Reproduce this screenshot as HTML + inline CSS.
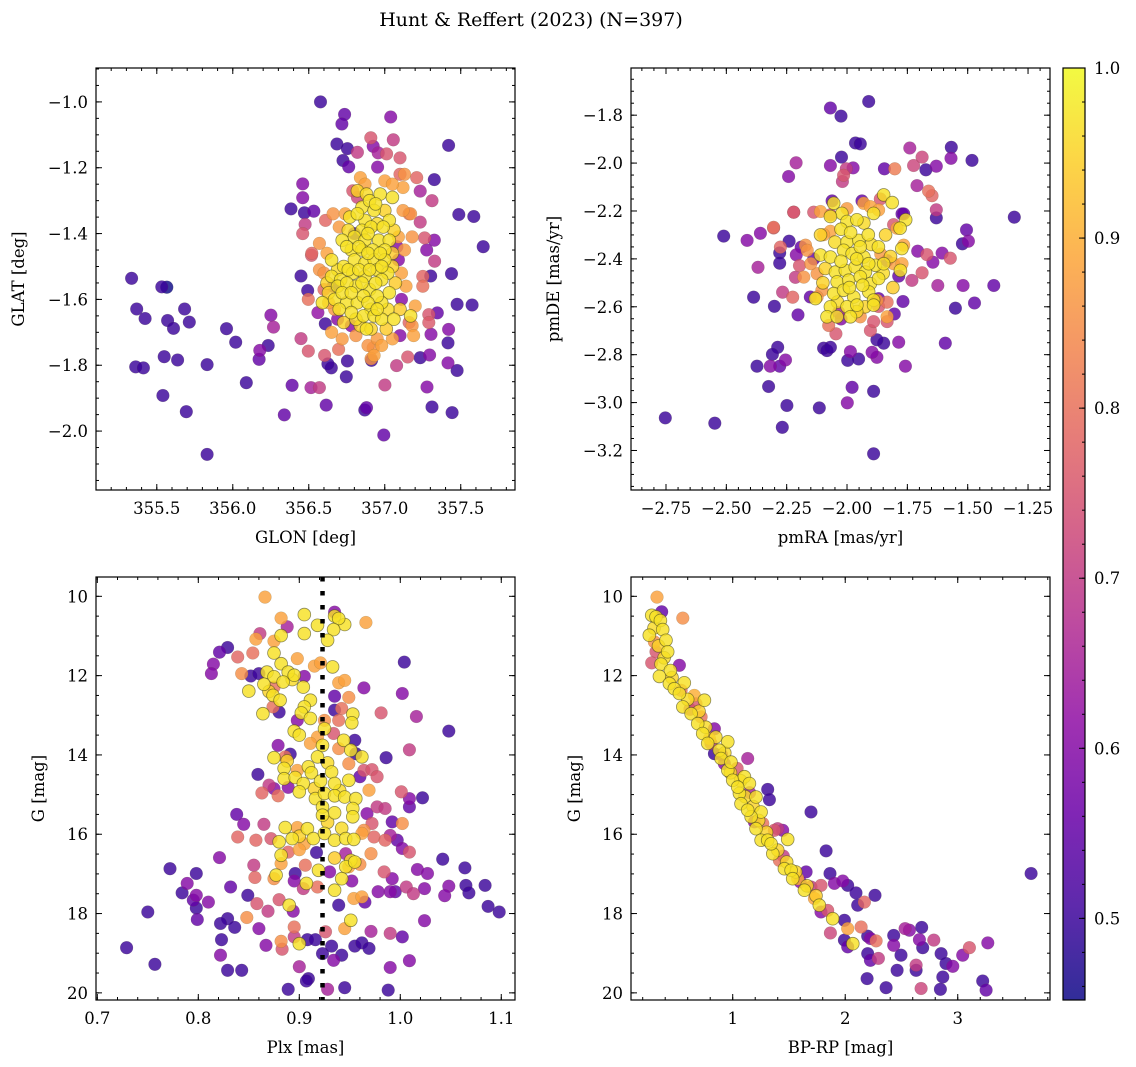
<!DOCTYPE html>
<html><head><meta charset="utf-8"><title>Hunt & Reffert (2023)</title>
<style>
html,body{margin:0;padding:0;background:#fff;}
svg{display:block;font-family:"DejaVu Serif","Liberation Serif",serif;}
</style></head>
<body>
<svg id="fig" width="1136" height="1067" viewBox="0 0 1136 1067" xmlns="http://www.w3.org/2000/svg">
<text x="531" y="26" text-anchor="middle" font-size="19">Hunt &amp; Reffert (2023) (N=397)</text>
</svg>
<script>
// ---------- data: [x, y, membership probability] ----------
const glonGlat = [
[355.334,-1.536,.5],[355.533,-1.562,.5],[355.566,-1.563,.45],[355.368,-1.629,.5],[355.423,-1.658,.5],[355.571,-1.664,.5],[355.683,-1.629,.5],[355.610,-1.688,.5],[355.714,-1.669,.5],[355.361,-1.805,.5],[355.412,-1.808,.5],[355.549,-1.774,.5],[355.637,-1.784,.5],[355.831,-1.798,.5],[355.540,-1.892,.5],[355.694,-1.941,.5],[355.831,-2.071,.5],[355.959,-1.689,.5],[356.019,-1.730,.5],[356.089,-1.853,.5],[356.173,-1.782,.55],[356.178,-1.755,.6],[356.233,-1.740,.5],[356.251,-1.648,.6],[356.268,-1.684,.65],[356.339,-1.951,.55],[356.390,-1.861,.55],[356.383,-1.325,.5],[356.460,-1.249,.6],[356.460,-1.291,.6],[356.471,-1.337,.5],[356.533,-1.332,.55],[356.476,-1.372,.7],[356.460,-1.400,.75],[356.518,-1.466,.75],[356.449,-1.529,.5],[356.493,-1.573,.5],[356.497,-1.600,.8],[356.449,-1.719,.7],[356.497,-1.757,.75],[356.515,-1.868,.65],[356.570,-1.868,.7],[356.615,-1.921,.55],[356.577,-1.000,.5],[356.736,-1.038,.55],[356.718,-1.067,.55],[356.685,-1.128,.5],[356.754,-1.142,.5],[356.725,-1.178,.5],[356.763,-1.197,.55],[356.820,-1.153,.7],[356.908,-1.109,.75],[356.924,-1.135,.6],[356.957,-1.155,.65],[357.012,-1.158,.75],[357.056,-1.115,.7],[357.039,-1.046,.6],[356.953,-1.198,.6],[357.100,-1.170,.75],[357.420,-1.132,.5],[357.326,-1.236,.5],[357.487,-1.342,.5],[357.586,-1.348,.5],[357.648,-1.440,.5],[357.233,-1.271,.65],[357.311,-1.300,.7],[357.233,-1.365,.7],[357.262,-1.413,.75],[357.326,-1.420,.6],[357.276,-1.450,.6],[357.328,-1.484,.7],[357.439,-1.522,.5],[357.302,-1.529,.5],[357.346,-1.641,.55],[357.290,-1.646,.75],[357.476,-1.615,.5],[357.575,-1.617,.5],[357.304,-1.706,.6],[357.420,-1.691,.6],[357.416,-1.732,.5],[357.416,-1.793,.6],[357.476,-1.816,.5],[357.295,-1.769,.6],[357.233,-1.777,.5],[357.278,-1.866,.6],[357.311,-1.927,.5],[357.443,-1.944,.5],[357.151,-1.775,.75],[357.078,-1.801,.7],[357.001,-1.860,.7],[356.994,-2.012,.55],[356.880,-1.929,.55],[356.869,-1.936,.5],[356.754,-1.787,.5],[356.747,-1.835,.5],[356.648,-1.808,.5],[356.626,-1.796,.5],[356.604,-1.770,.75],[356.609,-1.674,.5],[356.696,-1.752,.8],[356.913,-1.785,.5],[356.924,-1.747,.85],
[356.77,-1.35,.97],[356.85,-1.32,.97],[356.90,-1.30,.97],[356.97,-1.28,.97],[357.05,-1.29,.97],[356.87,-1.36,.97],[356.93,-1.33,.97],[357.03,-1.36,.97],[356.85,-1.39,.97],[356.91,-1.38,.97],[356.99,-1.38,.97],[356.72,-1.42,.97],[356.80,-1.41,.97],[356.87,-1.42,.97],[356.96,-1.42,.97],[357.03,-1.42,.97],[356.78,-1.45,.97],[356.85,-1.45,.97],[356.92,-1.45,.97],[357.00,-1.45,.97],[356.65,-1.48,.97],[356.73,-1.50,.97],[356.80,-1.48,.97],[356.87,-1.49,.97],[356.93,-1.48,.97],[357.00,-1.48,.97],[356.65,-1.53,.97],[356.71,-1.54,.97],[356.79,-1.52,.97],[356.87,-1.53,.97],[356.95,-1.51,.97],[357.02,-1.52,.97],[356.69,-1.56,.97],[356.81,-1.56,.97],[356.90,-1.57,.97],[356.98,-1.54,.97],[357.03,-1.58,.97],[356.59,-1.61,.97],[356.67,-1.60,.97],[356.75,-1.61,.97],[356.82,-1.61,.97],[356.91,-1.63,.97],[356.98,-1.61,.97],[356.78,-1.64,.97],[356.86,-1.65,.97],[356.93,-1.65,.97],[356.98,-1.66,.97],[357.06,-1.66,.97],[357.17,-1.65,.97],[356.88,-1.69,.97],
[356.82,-1.27,.95],[356.88,-1.28,.96],[356.94,-1.31,.97],[357.00,-1.33,.95],[356.82,-1.34,.97],[356.76,-1.39,.96],[356.89,-1.40,.97],[356.95,-1.37,.96],[357.06,-1.39,.95],[356.75,-1.44,.97],[356.83,-1.44,.97],[356.89,-1.46,.97],[356.97,-1.46,.97],[357.05,-1.46,.94],[356.69,-1.51,.96],[356.76,-1.51,.97],[356.83,-1.51,.97],[356.90,-1.51,.97],[356.98,-1.50,.97],[357.05,-1.50,.95],[356.62,-1.55,.95],[356.75,-1.55,.97],[356.85,-1.55,.97],[356.94,-1.55,.97],[357.07,-1.55,.94],[356.72,-1.58,.97],[356.78,-1.58,.97],[356.86,-1.59,.97],[356.95,-1.59,.97],[356.63,-1.58,.95],[356.70,-1.63,.97],[356.81,-1.66,.96],[356.89,-1.61,.97],[356.95,-1.63,.97],[357.02,-1.63,.96],[356.84,-1.68,.95],[356.91,-1.69,.95],[357.01,-1.69,.94],[356.73,-1.67,.95],[357.10,-1.63,.94],
[356.84,-1.23,.88],[356.87,-1.25,.88],[357.00,-1.24,.88],[357.12,-1.26,.88],[357.13,-1.22,.86],[357.17,-1.34,.86],[356.66,-1.34,.86],[356.74,-1.34,.88],[356.57,-1.43,.86],[356.62,-1.46,.88],[356.57,-1.51,.86],[357.11,-1.52,.88],[357.14,-1.56,.88],[357.20,-1.62,.88],[356.65,-1.70,.88],[356.81,-1.71,.86],[356.89,-1.74,.86],[356.93,-1.77,.88],[356.98,-1.74,.88],[357.19,-1.71,.88],[357.18,-1.68,.86],[357.05,-1.72,.88],[356.91,-1.78,.86],[356.63,-1.61,.88],[356.67,-1.63,.86],[357.18,-1.41,.86],[357.09,-1.41,.88],[357.05,-1.25,.88],[356.70,-1.38,.87],[357.13,-1.45,.87],[356.60,-1.52,.86],[356.95,-1.72,.87],[356.72,-1.72,.87],[357.12,-1.33,.87],
[357.10,-1.22,.78],[357.21,-1.23,.78],[356.52,-1.46,.78],[356.61,-1.36,.78],[357.25,-1.53,.78],[357.25,-1.56,.8],[357.29,-1.67,.76],[357.16,-1.34,.8],[356.60,-1.57,.78],[357.16,-1.67,.78],[356.82,-1.29,.72],[356.79,-1.27,.75],
[357.09,-1.48,.6],[357.11,-1.60,.6],[356.69,-1.66,.6],[356.78,-1.68,.6],[357.08,-1.44,.6],[356.56,-1.64,.62],[357.10,-1.71,.6],[356.80,-1.40,.5],[356.66,-1.56,.5]
];
const pmraPmde = [
[-2.753,-3.064,.5],[-2.548,-3.086,.5],[-2.511,-2.305,.5],[-2.414,-2.323,.6],[-2.359,-2.293,.6],[-2.369,-2.435,.65],[-2.387,-2.560,.5],[-2.301,-2.598,.5],[-2.242,-2.056,.6],[-2.211,-1.999,.65],[-2.221,-2.205,.75],[-2.304,-2.268,.8],[-2.276,-2.351,.78],[-2.279,-2.375,.5],[-2.279,-2.418,.5],[-2.240,-2.326,.5],[-2.210,-2.383,.6],[-2.197,-2.428,.75],[-2.214,-2.477,.7],[-2.267,-2.539,.7],[-2.225,-2.560,.78],[-2.203,-2.634,.55],[-2.287,-2.769,.5],[-2.309,-2.799,.5],[-2.373,-2.848,.5],[-2.318,-2.848,.6],[-2.279,-2.848,.55],[-2.255,-2.822,.6],[-2.325,-2.933,.5],[-2.249,-3.012,.5],[-2.268,-3.103,.5],[-2.115,-3.022,.5],[-1.999,-3.001,.6],[-1.979,-2.936,.55],[-1.890,-2.953,.5],[-1.890,-3.214,.5],[-1.758,-2.848,.6],[-1.786,-2.748,.6],[-1.848,-2.752,.5],[-1.876,-2.738,.5],[-1.876,-2.811,.6],[-1.896,-2.790,.6],[-1.952,-2.818,.5],[-1.997,-2.824,.5],[-1.986,-2.787,.6],[-2.097,-2.773,.5],[-2.083,-2.783,.5],[-2.076,-2.678,.8],[-2.046,-2.713,.75],[-2.035,-2.623,.65],[-2.025,-2.651,.6],[-1.903,-2.699,.75],[-1.804,-2.630,.55],[-1.768,-2.578,.55],[-1.834,-2.581,.8],[-1.869,-2.599,.75],[-1.593,-2.752,.55],[-1.551,-2.606,.5],[-1.472,-2.584,.55],[-1.392,-2.511,.55],[-1.519,-2.511,.6],[-1.624,-2.511,.65],[-1.731,-2.490,.7],[-1.689,-2.458,.75],[-1.572,-2.397,.75],[-1.606,-2.376,.6],[-1.644,-2.414,.6],[-1.669,-2.382,.75],[-1.707,-2.368,.6],[-1.522,-2.337,.5],[-1.497,-2.326,.6],[-1.505,-2.279,.55],[-1.307,-2.226,.5],[-1.630,-2.229,.5],[-1.630,-2.195,.7],[-1.648,-2.136,.78],[-1.710,-2.094,.65],[-1.662,-2.117,.8],[-1.568,-1.934,.5],[-1.569,-1.980,.6],[-1.482,-1.989,.5],[-1.630,-2.013,.6],[-1.673,-2.028,.5],[-1.724,-2.010,.72],[-1.689,-1.975,.72],[-1.740,-1.937,.65],[-1.802,-2.024,.82],[-1.845,-2.024,.55],[-1.910,-1.743,.5],[-2.069,-1.770,.55],[-2.025,-1.804,.5],[-1.965,-1.916,.5],[-1.945,-1.920,.5],[-2.023,-1.975,.5],[-2.069,-2.010,.6],[-2.003,-2.024,.7],[-1.975,-2.020,.6],[-2.019,-2.077,.7],[-1.772,-2.212,.55],[-2.069,-2.769,.5],
[-1.848,-2.133,.97],[-1.813,-2.165,.97],[-2.055,-2.168,.97],[-2.021,-2.210,.97],[-2.000,-2.244,.97],[-1.959,-2.237,.97],[-1.890,-2.210,.97],[-1.757,-2.237,.97],[-1.780,-2.272,.97],[-2.069,-2.223,.97],[-2.025,-2.276,.97],[-2.000,-2.330,.97],[-1.951,-2.323,.97],[-1.912,-2.299,.97],[-1.870,-2.350,.97],[-1.773,-2.357,.97],[-2.110,-2.384,.97],[-2.069,-2.392,.97],[-2.014,-2.364,.97],[-1.979,-2.378,.97],[-1.930,-2.392,.97],[-1.882,-2.427,.97],[-1.848,-2.420,.97],[-1.779,-2.448,.97],[-2.048,-2.455,.97],[-2.007,-2.448,.97],[-1.966,-2.434,.97],[-1.924,-2.455,.97],[-2.041,-2.496,.97],[-1.993,-2.489,.97],[-1.945,-2.475,.97],[-1.903,-2.503,.97],[-1.869,-2.482,.97],[-2.055,-2.545,.97],[-2.014,-2.531,.97],[-1.972,-2.559,.97],[-1.910,-2.538,.97],[-2.131,-2.566,.97],[-2.069,-2.600,.97],[-2.000,-2.600,.97],[-1.959,-2.593,.97],[-1.890,-2.572,.97],[-2.083,-2.642,.97],[-2.041,-2.642,.97],[-1.986,-2.642,.97],[-1.890,-2.593,.97],
[-1.930,-2.250,.96],[-1.985,-2.290,.97],[-1.945,-2.350,.97],[-1.900,-2.340,.96],[-1.840,-2.300,.95],[-1.820,-2.390,.95],[-2.050,-2.330,.96],[-2.090,-2.440,.95],[-1.960,-2.400,.97],[-1.910,-2.420,.97],[-1.850,-2.460,.96],[-2.025,-2.410,.97],[-1.990,-2.520,.97],[-1.935,-2.510,.97],[-2.100,-2.500,.95],[-1.960,-2.620,.96],[-1.925,-2.600,.95],[-2.110,-2.300,.95],[-1.810,-2.520,.94],[-2.040,-2.580,.96],
[-2.110,-2.202,.88],[-1.931,-2.168,.88],[-1.903,-2.182,.88],[-2.069,-2.285,.88],[-2.097,-2.299,.88],[-1.793,-2.272,.88],[-1.765,-2.343,.88],[-1.807,-2.420,.88],[-1.772,-2.420,.88],[-2.179,-2.476,.86],[-2.124,-2.462,.86],[-2.104,-2.531,.86],[-2.172,-2.343,.86],[-2.165,-2.364,.86],[-1.945,-2.642,.86],[-2.124,-2.559,.86],[-1.834,-2.642,.88],[-1.876,-2.573,.86],[-1.869,-2.196,.88],[-2.150,-2.420,.86],[-1.860,-2.380,.87],[-2.000,-2.190,.87],
[-2.304,-2.271,.75],[-2.221,-2.205,.75],[-2.138,-2.205,.75],[-1.807,-2.257,.75],[-1.834,-2.662,.75],[-1.890,-2.662,.75],[-2.014,-2.051,.75],[-1.862,-2.150,.75],[-2.069,-2.216,.75],
[-2.062,-2.158,.55],[-1.938,-2.158,.55],[-2.138,-2.400,.55],[-1.834,-2.407,.55],[-1.786,-2.472,.55],[-1.765,-2.212,.55],[-1.869,-2.566,.55],[-2.152,-2.559,.55],[-2.190,-2.351,.55]
];
const plxG = [
[0.866,10.02,.88],[0.905,10.46,.97],[0.882,10.55,.88],[0.888,10.77,.65],[0.935,10.40,.6],[0.935,10.50,.97],[0.945,10.71,.97],[0.939,10.56,.97],[0.918,10.73,.97],[0.934,10.84,.97],[0.905,10.94,.97],[0.928,11.11,.97],[0.966,10.66,.88],[0.861,10.94,.7],[0.857,11.08,.88],[0.875,11.13,.88],[0.882,10.99,.97],[0.829,11.29,.5],[0.821,11.41,.55],[0.839,11.53,.78],[0.854,11.43,.8],[0.875,11.43,.97],[0.815,11.71,.6],[0.813,11.95,.6],[0.843,11.95,.85],[0.852,12.01,.5],[0.860,11.95,.5],[0.868,11.91,.97],[0.875,12.03,.97],[0.882,11.70,.97],[0.889,11.91,.97],[0.884,12.16,.97],[0.895,11.99,.97],[0.865,12.22,.97],[0.850,12.39,.97],[0.874,12.50,.97],[0.881,12.62,.97],[0.904,12.29,.97],[0.875,12.29,.8],[0.898,11.57,.88],[0.915,11.76,.88],[0.921,11.68,.88],[0.933,11.78,.97],[0.905,12.02,.6],[0.939,12.18,.88],[0.945,12.12,.88],[0.964,12.31,.6],[1.002,12.45,.6],[1.004,11.66,.5],[0.935,12.52,.55],[0.949,12.55,.85],[0.942,12.83,.8],[0.911,12.62,.97],[0.905,12.79,.97],[0.902,12.94,.97],[0.864,12.96,.97],[0.874,12.79,.8],[0.880,12.92,.5],[0.911,13.08,.97],[0.953,12.97,.97],[0.952,13.19,.97],[0.925,13.13,.85],[0.939,13.13,.8],[0.935,12.87,.5],[0.898,13.13,.6],[0.981,12.94,.75],[1.016,13.03,.65],[1.048,13.40,.5],[0.895,13.40,.97],[0.900,13.50,.97],[0.925,13.34,.97],[0.944,13.63,.97],[0.955,13.63,.5],[0.918,13.55,.88],[0.934,13.46,.75],[0.879,13.76,.6],[0.891,13.98,.5],[0.875,14.07,.97],[0.886,14.05,.8],[0.911,13.71,.88],[0.923,13.76,.97],[0.951,13.88,.97],[0.962,14.05,.97],[0.956,13.97,.5],[0.939,13.84,.85],[0.986,14.07,.5],[1.009,13.87,.7],[0.918,14.05,.97],[0.909,14.30,.97],[0.885,14.34,.97],[0.898,14.39,.88],[0.912,14.45,.97],[0.932,14.43,.97],[0.949,14.22,.85],[0.964,14.39,.75],[0.972,14.37,.75],[0.977,14.55,.75],[0.859,14.49,.5],[0.885,14.60,.97],[0.896,14.57,.97],[0.904,14.72,.97],[0.921,14.66,.97],[0.935,14.72,.97],[0.949,14.64,.97],[0.960,14.55,.55],[0.870,14.76,.7],[0.875,14.85,.6],[0.889,14.82,.6],[0.863,14.96,.78],[0.879,15.03,.8],[0.900,14.93,.97],[0.916,15.10,.97],[0.925,14.97,.97],[0.935,15.03,.97],[0.945,15.06,.97],[0.956,15.10,.97],[0.969,14.89,.88],[1.001,14.93,.75],[1.022,15.08,.5],[1.009,15.10,.6],[1.009,15.31,.55],[0.923,15.31,.97],[0.935,15.46,.97],[0.953,15.35,.97],[0.953,15.56,.97],[0.923,15.52,.97],[0.967,15.48,.6],[0.977,15.31,.7],[0.985,15.35,.7],[0.972,15.73,.75],[0.992,15.69,.55],[1.002,15.73,.85],[0.964,15.90,.85],[0.838,15.50,.55],[0.845,15.75,.6],[0.865,15.75,.7],[0.886,15.83,.97],[0.898,15.83,.88],[0.908,15.86,.97],[0.914,16.11,.97],[0.925,15.98,.97],[0.935,16.15,.97],[0.946,16.11,.97],[0.954,16.13,.97],[0.962,15.98,.88],[0.974,16.07,.78],[0.985,16.15,.78],[0.990,16.03,.65],[0.839,16.07,.78],[0.857,16.15,.78],[0.872,16.11,.75],[0.880,16.19,.97],[0.893,16.11,.97],[0.905,16.24,.88],[0.900,16.39,.88],[0.821,16.59,.6],[0.882,16.53,.97],[0.889,16.45,.78],[0.917,16.46,.5],[0.946,16.49,.65],[0.951,16.66,.97],[0.960,16.76,.85],[0.971,16.49,.85],[0.997,16.15,.55],[1.002,16.36,.6],[1.009,16.45,.75],[0.772,16.87,.5],[0.798,16.99,.5],[0.789,17.24,.6],[0.784,17.48,.5],[0.798,17.54,.6],[0.795,17.66,.55],[0.798,17.86,.5],[0.810,17.71,.6],[0.750,17.96,.5],[0.799,18.15,.55],[0.855,16.78,.7],[0.856,17.09,.78],[0.877,17.03,.97],[0.875,17.12,.85],[0.882,16.74,.88],[0.896,16.99,.5],[0.906,16.78,.8],[0.919,16.91,.97],[0.930,16.95,.6],[0.946,16.82,.97],[0.955,16.70,.97],[0.949,16.82,.88],[0.832,17.33,.55],[0.849,17.54,.5],[0.858,17.75,.75],[0.869,17.94,.7],[0.880,17.65,.75],[0.890,17.79,.97],[0.894,17.94,.6],[0.895,17.18,.6],[0.904,17.37,.7],[0.907,17.24,.97],[0.918,17.33,.8],[0.935,17.41,.97],[0.942,17.12,.97],[0.952,17.18,.6],[0.939,17.79,.5],[0.954,17.62,.88],[0.962,17.58,.88],[0.965,17.71,.55],[0.978,17.45,.6],[0.990,17.45,.6],[0.995,17.45,.55],[1.006,17.33,.7],[1.013,17.50,.7],[1.024,17.37,.6],[1.048,17.31,.6],[1.044,17.55,.6],[1.065,17.29,.5],[1.068,17.48,.5],[1.084,17.29,.5],[1.064,16.85,.5],[1.042,16.63,.5],[1.017,16.89,.6],[1.027,16.99,.6],[0.984,16.95,.75],[0.992,17.12,.6],[0.848,18.10,.85],[0.829,18.13,.5],[0.822,18.25,.5],[0.836,18.35,.5],[0.860,18.38,.6],[0.823,18.66,.5],[0.822,19.05,.6],[0.829,19.43,.5],[0.843,19.43,.5],[0.867,18.80,.6],[0.882,18.70,.85],[0.883,18.90,.75],[0.895,18.34,.8],[0.900,18.76,.97],[0.895,18.59,.7],[0.908,18.66,.5],[0.916,18.66,.5],[0.926,18.46,.75],[0.945,18.38,.88],[0.951,18.17,.97],[0.932,18.82,.5],[0.923,19.01,.5],[0.934,19.18,.6],[0.942,19.05,.5],[0.955,18.82,.5],[0.962,18.74,.5],[0.969,18.88,.5],[0.971,18.45,.65],[0.990,18.50,.7],[1.002,18.59,.55],[1.009,19.19,.6],[0.990,19.36,.6],[1.024,18.18,.6],[1.087,17.82,.5],[1.098,17.96,.5],[0.900,19.34,.65],[0.909,19.64,.5],[0.907,19.70,.5],[0.889,19.91,.5],[0.928,19.91,.65],[0.945,19.87,.5],[0.988,19.93,.5],[0.729,18.86,.5],[0.757,19.28,.5],
[0.893,12.10,.96],[0.870,12.40,.95],[0.928,14.20,.96],[0.940,14.90,.96],[0.915,14.85,.95],[0.928,15.70,.95],[0.942,15.85,.96],[0.900,16.05,.95],[0.935,16.60,.94],[0.888,14.15,.95]
];
const bprpG = [
[0.327,10.02,.88],[0.556,10.55,.85],[0.369,10.39,.55],[0.280,10.48,.97],[0.318,10.52,.97],[0.357,10.61,.97],[0.378,10.84,.97],[0.259,10.98,.97],[0.407,11.11,.97],[0.304,11.15,.85],[0.422,11.40,.97],[0.318,11.40,.75],[0.280,11.68,.75],[0.363,11.71,.97],[0.526,11.74,.6],[0.446,11.87,.97],[0.348,12.02,.97],[0.437,12.20,.97],[0.570,12.18,.97],[0.481,12.33,.97],[0.526,12.45,.97],[0.659,12.50,.9],[0.748,12.62,.97],[0.674,12.71,.75],[0.556,12.79,.97],[0.630,12.96,.97],[0.719,13.04,.8],[0.689,13.21,.97],[0.837,13.34,.6],[0.733,13.46,.97],[0.793,13.59,.9],[0.956,13.67,.97],[0.881,13.88,.97],[0.896,14.09,.97],[1.133,14.09,.65],[0.837,13.97,.5],[0.956,14.39,.97],[1.039,14.34,.75],[1.000,14.64,.97],[1.104,14.55,.97],[1.148,14.72,.97],[1.311,14.87,.5],[1.326,15.13,.5],[1.059,14.97,.97],[1.074,15.23,.97],[1.207,15.06,.97],[1.252,15.44,.97],[1.163,15.56,.97],[1.267,15.73,.8],[1.696,15.44,.5],[1.207,15.86,.97],[1.400,15.86,.7],[1.444,15.90,.6],[1.489,16.13,.97],[1.252,16.15,.97],[1.311,16.15,.97],[1.356,16.49,.97],[1.415,16.66,.8],[1.830,16.42,.5],[1.459,16.87,.97],[1.519,16.91,.97],[1.652,16.95,.55],[1.865,16.99,.5],[1.533,17.12,.97],[1.637,17.41,.97],[1.696,17.33,.7],[1.785,17.29,.75],[1.904,17.24,.6],[1.978,17.18,.6],[2.022,17.29,.5],[2.096,17.48,.5],[2.265,17.54,.5],[2.170,17.71,.78],[2.111,17.79,.5],[1.726,17.62,.88],[1.770,17.79,.97],[1.844,17.92,.75],[1.785,17.96,.6],[1.889,18.13,.97],[1.993,18.17,.5],[1.868,18.49,.72],[2.022,18.38,.88],[2.141,18.34,.8],[2.067,18.76,.97],[1.993,18.67,.5],[2.022,18.84,.55],[2.200,18.57,.5],[2.224,18.63,.6],[2.274,18.69,.8],[2.200,19.01,.5],[2.224,19.18,.55],[2.295,19.13,.7],[2.431,18.55,.5],[2.431,18.80,.6],[2.496,19.05,.5],[2.532,18.38,.65],[2.570,18.42,.6],[2.680,18.35,.5],[2.659,18.66,.6],[2.689,18.86,.5],[2.787,18.67,.7],[2.852,19.01,.5],[2.896,19.26,.5],[2.956,19.33,.6],[3.044,19.05,.6],[3.104,18.86,.75],[3.267,18.74,.6],[2.630,19.30,.7],[2.630,19.43,.5],[2.461,19.43,.5],[2.867,19.60,.5],[2.194,19.64,.5],[2.363,19.87,.5],[2.674,19.89,.72],[2.846,19.91,.5],[3.222,19.70,.5],[3.252,19.93,.55],[3.652,16.99,.5],
[0.778,13.71,.97],[0.985,14.18,.97],[1.044,14.81,.97],[1.133,15.39,.97],[1.341,16.24,.97],[1.578,17.12,.9],[0.541,12.37,.8],[0.807,13.71,.7],[0.926,14.22,.6],[1.193,15.69,.6],[1.370,15.90,.75],
[0.300,10.80,.96],[0.340,11.25,.95],[0.390,11.55,.96],[0.460,12.05,.95],[0.600,12.60,.96],[0.700,12.90,.95],[0.760,13.30,.96],[0.850,13.55,.96],[0.930,13.95,.96],[0.980,14.45,.95],[1.070,14.65,.95],[1.110,15.05,.96],[1.180,15.30,.95],[1.230,15.65,.96],[1.300,15.95,.95],[1.400,16.40,.95],[1.480,16.70,.96],[1.560,16.95,.95],[1.660,17.30,.95],[1.740,17.55,.94],[0.620,12.85,.7],[0.900,14.00,.6],[1.150,14.95,.65],[1.450,16.55,.7],[1.600,17.20,.6]
];
const cbarTicks = [0.5,0.6,0.7,0.8,0.9,1.0];
const cbarMin = 0.452, cbarMax = 1.0;
const plxRef = 0.923;

// ---------- plasma colormap ----------
const plasma = ['#0d0887','#41049d','#6a00a8','#8f0da4','#b12a90','#cc4778','#e16462','#f2844b','#fca636','#fcce25','#f0f921'];
function hex(h){return [parseInt(h.slice(1,3),16),parseInt(h.slice(3,5),16),parseInt(h.slice(5,7),16)];}
function cmap(p){
  let t=(p-cbarMin)/(cbarMax-cbarMin); t=Math.max(0,Math.min(1,t));
  const f=t*10, i=Math.min(9,Math.floor(f)), r=f-i;
  const a=hex(plasma[i]), b=hex(plasma[i+1]);
  return 'rgb('+a.map((v,k)=>Math.round(v+(b[k]-v)*r)).join(',')+')';
}

const NS='http://www.w3.org/2000/svg';
const svg=document.getElementById('fig');
function el(tag,attrs,parent){const e=document.createElementNS(NS,tag);for(const k in attrs)e.setAttribute(k,attrs[k]);(parent||svg).appendChild(e);return e;}
function fmt(v,d){const s=Math.abs(v).toFixed(d);return (v<0?'\u2212':'')+s;}

function panel(cfg){
  const g=el('g',{});
  
  
  const {L,T,R,B}=cfg;
  const sx=v=>L+(v-cfg.x0)/(cfg.x1-cfg.x0)*(R-L);
  const sy=v=>T+(v-cfg.y0)/(cfg.y1-cfg.y0)*(B-T);
  const cp='clip-'+cfg.name;
  const defs=el('defs',{},g);
  const c=el('clipPath',{id:cp},defs);
  el('rect',{x:L,y:T,width:R-L,height:B-T},c);
  const pg=el('g',{'clip-path':'url(#'+cp+')'},g);
  
  
  const pts=cfg.data.slice().sort((a,b)=>a[2]-b[2]);
  pts.forEach(d=>{
    const hiP=d[2]>0.9;
    const ci=el('circle',{cx:sx(d[0]).toFixed(1),cy:sy(d[1]).toFixed(1),r:6.4,fill:cmap(d[2]),'fill-opacity':0.82,stroke:hiP?'rgba(70,70,30,0.6)':'rgba(90,90,60,0.3)','stroke-width':hiP?0.8:0.5},pg);
    
    
  });
  if(cfg.vline!==undefined){
    const ln=el('line',{x1:sx(cfg.vline),x2:sx(cfg.vline),y1:T,y2:B,stroke:'#000','stroke-width':4.5,'stroke-dasharray':'4.5 9.5'},pg);
    
    
  }
  const tk=el('g',{stroke:'#000','stroke-width':1},g);
  
  
  const lo=Math.min(cfg.x0,cfg.x1), hi=Math.max(cfg.x0,cfg.x1);
  for(let v=Math.ceil(lo/cfg.xm-1e-9)*cfg.xm; v<=hi+1e-9; v+=cfg.xm){
    const x=sx(v); el('line',{x1:x,x2:x,y1:B,y2:B-3},tk); el('line',{x1:x,x2:x,y1:T,y2:T+3},tk);
  }
  const ylo=Math.min(cfg.y0,cfg.y1), yhi=Math.max(cfg.y0,cfg.y1);
  for(let v=Math.ceil(ylo/cfg.ym-1e-9)*cfg.ym; v<=yhi+1e-9; v+=cfg.ym){
    const y=sy(v); el('line',{x1:L,x2:L+3,y1:y,y2:y},tk); el('line',{x1:R,x2:R-3,y1:y,y2:y},tk);
  }
  cfg.xt.forEach(v=>{
    const x=sx(v); el('line',{x1:x,x2:x,y1:B,y2:B-6},tk); el('line',{x1:x,x2:x,y1:T,y2:T+6},tk);
    const t=el('text',{x:x,y:B+24,'text-anchor':'middle','font-size':16.5},g); t.textContent=fmt(v,cfg.xd);
    
    
  });
  cfg.yt.forEach(v=>{
    const y=sy(v); el('line',{x1:L,x2:L+6,y1:y,y2:y},tk); el('line',{x1:R,x2:R-6,y1:y,y2:y},tk);
    const t=el('text',{x:L-8,y:y+6,'text-anchor':'end','font-size':16.5},g); t.textContent=fmt(v,cfg.yd);
    
    
  });
  el('rect',{x:L,y:T,width:R-L,height:B-T,fill:'none',stroke:'#000','stroke-width':1.2},g);
  const xl=el('text',{x:(L+R)/2,y:B+53,'text-anchor':'middle','font-size':16.5},g); xl.textContent=cfg.xlab;
  
  
  const yx=cfg.ylx, yy=(T+B)/2;
  const yl=el('text',{x:yx,y:yy,'text-anchor':'middle','font-size':16.5,transform:'rotate(-90 '+yx+' '+yy+')'},g); yl.textContent=cfg.ylab;
  
  
}

panel({name:'glon-glat-panel',data:glonGlat,L:96,T:68,R:515,B:490,x0:355.10,x1:357.857,y0:-0.897,y1:-2.179,
  xt:[355.5,356.0,356.5,357.0,357.5],xd:1,xm:0.1,yt:[-1.0,-1.2,-1.4,-1.6,-1.8,-2.0],yd:1,ym:0.05,xlab:'GLON [deg]',ylab:'GLAT [deg]',ylx:24});
panel({name:'pm-panel',data:pmraPmde,L:631,T:68,R:1050,B:490,x0:-2.895,x1:-1.159,y0:-1.603,y1:-3.365,
  xt:[-2.75,-2.5,-2.25,-2.0,-1.75,-1.5,-1.25],xd:2,xm:0.05,yt:[-1.8,-2.0,-2.2,-2.4,-2.6,-2.8,-3.0,-3.2],yd:1,ym:0.05,xlab:'pmRA [mas/yr]',ylab:'pmDE [mas/yr]',ylx:559});
panel({name:'plx-g-panel',data:plxG,L:96,T:577,R:515,B:1000,x0:0.6987,x1:1.1136,y0:9.513,y1:20.18,vline:plxRef,
  xt:[0.7,0.8,0.9,1.0,1.1],xd:1,xm:0.02,yt:[10,12,14,16,18,20],yd:0,ym:0.5,xlab:'Plx [mas]',ylab:'G [mag]',ylx:44});
panel({name:'cmd-panel',data:bprpG,L:631,T:577,R:1050,B:1000,x0:0.096,x1:3.82,y0:9.513,y1:20.18,
  xt:[1,2,3],xd:0,xm:0.2,yt:[10,12,14,16,18,20],yd:0,ym:0.5,xlab:'BP-RP [mag]',ylab:'G [mag]',ylx:580});

// ---------- colorbar ----------
(function(){
  const L=1063,R=1085,T=68,B=1000;
  const g=el('g',{});
  
  
  const defs=el('defs',{},g);
  const lg=el('linearGradient',{id:'plasmaGrad',x1:0,y1:1,x2:0,y2:0},defs);
  plasma.forEach((c,i)=>el('stop',{offset:(i/10),'stop-color':c,'stop-opacity':0.85},lg));
  el('rect',{x:L,y:T,width:R-L,height:B-T,fill:'url(#plasmaGrad)'},g);
  const sy=v=>B-(v-cbarMin)/(cbarMax-cbarMin)*(B-T);
  for(let v=0.46; v<=1.0001; v+=0.02){ const y=sy(v); el('line',{x1:R,x2:R-3,y1:y,y2:y,stroke:'#000','stroke-width':1},g); }
  cbarTicks.forEach(v=>{
    const y=sy(v); el('line',{x1:R,x2:R-6,y1:y,y2:y,stroke:'#000','stroke-width':1},g);
    const t=el('text',{x:R+9,y:y+6,'font-size':16.5},g); t.textContent=v.toFixed(1);
    
    
  });
  el('rect',{x:L,y:T,width:R-L,height:B-T,fill:'none',stroke:'#000','stroke-width':1.2},g);
})();
</script>
</body></html>
